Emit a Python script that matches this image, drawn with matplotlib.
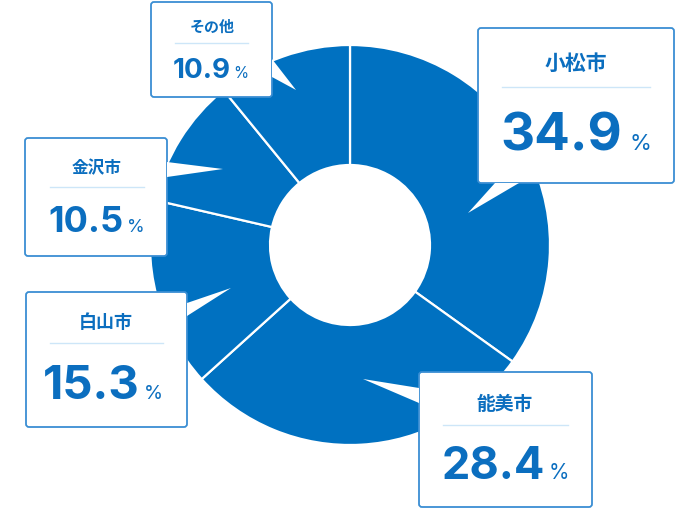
import matplotlib
matplotlib.use("Agg")
import matplotlib.pyplot as plt
from matplotlib.patches import FancyBboxPatch, Polygon

# ---- data ----
categories = ["小松市", "能美市", "白山市", "金沢市", "その他"]
shares = [34.9, 28.4, 15.3, 10.5, 10.9]
value_labels = ["34.9", "28.4", "15.3", "10.5", "10.9"]

BLUE = "#0071C1"
TXT = "#0B6EBF"
BORDER = "#3A8ED3"
DIV = "#CDE6F8"

W, H = 700, 509
fig = plt.figure(figsize=(7.0, 5.09), dpi=100)
ax = fig.add_axes([0, 0, 1, 1])
ax.set_xlim(0, W)
ax.set_ylim(0, H)
ax.set_aspect("equal")
ax.axis("off")

def Y(y):
    return H - y

cx, cy, R, r = 350, 245, 200, 80
ax.pie(shares, center=(cx, Y(cy)), radius=R, startangle=90, counterclock=False,
       colors=[BLUE] * len(shares),
       wedgeprops=dict(width=R - r, edgecolor="white", linewidth=1.6))
ax.set_xlim(0, W)
ax.set_ylim(0, H)

# layout for callouts (pixels): box, pointer, title, divider, number, pct
layout = {
    "小松市": dict(box=(478, 28, 674, 183), ptr=[(495, 183), (519, 183), (468, 213)],
                 title=(576, 63, 15), div=(87, 502, 650),
                 num=(622, 150, 38), pct=(629, 150, 16)),
    "能美市": dict(box=(419, 372, 592, 507), ptr=[(419, 388), (419, 403), (363, 379)],
                 title=(505, 405, 13.5), div=(425, 443, 568),
                 num=(545, 479, 32.5), pct=(549, 479, 15)),
    "白山市": dict(box=(26, 292, 187, 427), ptr=[(187, 303), (187, 316), (231, 288)],
                 title=(106, 323, 13), div=(343, 50, 163),
                 num=(140, 399, 34), pct=(144, 399, 14)),
    "金沢市": dict(box=(25, 138, 167, 256), ptr=[(167, 162), (167, 177), (223, 169)],
                 title=(97, 168, 12), div=(187, 50, 144),
                 num=(124, 232, 26), pct=(127, 232, 13)),
    "その他": dict(box=(151, 2, 272, 97), ptr=[(272, 59), (272, 77), (296, 90)],
                 title=(212, 27, 10.8), div=(43, 175, 248),
                 num=(231, 78, 20), pct=(233, 78, 11)),
}

NUMFONT = ["Inter", "DejaVu Sans"]
CJK = ["Noto Sans CJK JP", "DejaVu Sans"]

for cat, val in zip(categories, value_labels):
    L = layout[cat]
    x0, y0, x1, y1 = L["box"]
    box = FancyBboxPatch((x0, Y(y1)), x1 - x0, y1 - y0,
                         boxstyle="round,pad=0,rounding_size=3",
                         facecolor="white", edgecolor=BORDER, linewidth=1.3, zorder=5)
    ax.add_patch(box)
    pts = [(px, Y(py)) for px, py in L["ptr"]]
    ax.add_patch(Polygon(pts, closed=True, facecolor="white", edgecolor="none", zorder=6))
    tx, ty, tfs = L["title"]
    ax.text(tx, Y(ty), cat, ha="center", va="center", fontsize=tfs, color=TXT,
            family=CJK, fontweight="bold", zorder=7)
    dy, dx0, dx1 = L["div"]
    ax.plot([dx0, dx1], [Y(dy), Y(dy)], color=DIV, lw=1.0, zorder=7)
    nx, ny, nfs = L["num"]
    ax.text(nx, Y(ny), val, ha="right", va="baseline", fontsize=nfs, color=TXT,
            family=NUMFONT, fontweight="bold", zorder=7)
    px_, py_, pfs = L["pct"]
    ax.text(px_, Y(py_), "%", ha="left", va="baseline", fontsize=pfs, color=TXT,
            family=NUMFONT, fontweight="normal", zorder=7)

fig.savefig("out.png", dpi=100, facecolor="white")
